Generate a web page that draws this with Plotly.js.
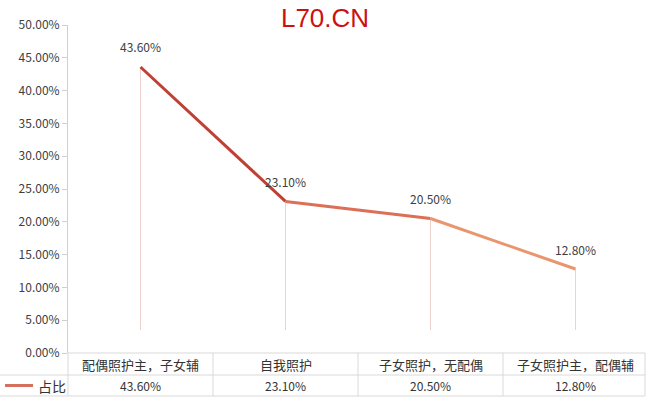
<!DOCTYPE html>
<html><head><meta charset="utf-8">
<script src="https://cdn.plot.ly/plotly-3.0.1.min.js"></script>
<style>html,body{margin:0;padding:0;background:#fff}#c{width:650px;height:402px}</style>
</head><body><div id="c"></div>
<script>
var categories = ["配偶照护主，子女辅", "自我照护", "子女照护，无配偶", "子女照护主，配偶辅"];
var values = [0.436, 0.231, 0.205, 0.128];
var valueLabels = ["43.60%", "23.10%", "20.50%", "12.80%"];
var seriesName = "占比";
var segColors = ["#bf4034", "#dc6f56", "#e9966f"];

var cjk = "Noto Sans CJK SC, sans-serif";
var traces = [];
for (var i = 0; i < values.length - 1; i++) {
  traces.push({
    x: [i, i + 1], y: [values[i], values[i + 1]], type: "scatter", mode: "lines",
    line: {color: segColors[i], width: 3}, hoverinfo: "skip", showlegend: false
  });
}

var shapes = [];
for (var i = 0; i < values.length; i++) {
  shapes.push({type: "line", xref: "x", yref: "y", x0: i, x1: i, y0: values[i], y1: 0.035,
    line: {color: "rgba(215,140,130,0.4)", width: 1}, layer: "below"});
}
var gc = "#d9d9d9";
var yr1 = -22 / 328, yr2 = -43 / 328;
var xl = -68 / 580, xr = 577 / 580;
shapes.push({type: "line", xref: "paper", yref: "paper", x0: 0, x1: xr, y0: 0, y1: 0, line: {color: gc, width: 1}});
shapes.push({type: "line", xref: "paper", yref: "paper", x0: xl, x1: xr, y0: yr1, y1: yr1, line: {color: gc, width: 1}});
shapes.push({type: "line", xref: "paper", yref: "paper", x0: xl, x1: xr, y0: yr2, y1: yr2, line: {color: gc, width: 1}});
shapes.push({type: "line", xref: "paper", yref: "paper", x0: 0, x1: 0, y0: 0, y1: yr2, line: {color: gc, width: 1}});
shapes.push({type: "line", xref: "paper", yref: "paper", x0: xr, x1: xr, y0: 0, y1: yr2, line: {color: gc, width: 1}});
for (var i = 1; i < categories.length; i++) {
  shapes.push({type: "line", xref: "x", yref: "paper", x0: i - 0.5, x1: i - 0.5, y0: 0, y1: yr2, line: {color: gc, width: 1}});
}
shapes.push({type: "line", xref: "paper", yref: "paper", x0: 5 / 580 + xl, x1: 33 / 580 + xl, y0: (yr1 + yr2) / 2, y1: (yr1 + yr2) / 2,
  line: {color: "#d6705e", width: 3}});

var annotations = [];
for (var i = 0; i < categories.length; i++) {
  annotations.push({x: i, xref: "x", y: values[i], yref: "y", yshift: 20, text: valueLabels[i], showarrow: false,
    xanchor: "center", yanchor: "middle", font: {family: cjk, size: 12, color: "#404040"}});
  annotations.push({x: i, xref: "x", y: yr1 / 2, yref: "paper", text: categories[i], showarrow: false,
    xanchor: "center", yanchor: "middle", font: {family: cjk, size: 13, color: "#333"}});
  annotations.push({x: i, xref: "x", y: (yr1 + yr2) / 2, yref: "paper", text: valueLabels[i], showarrow: false,
    xanchor: "center", yanchor: "middle", font: {family: cjk, size: 12, color: "#333"}});
}
annotations.push({x: 52 / 580 + xl, xref: "paper", y: (yr1 + yr2) / 2, yref: "paper", text: seriesName, showarrow: false,
  xanchor: "center", yanchor: "middle", font: {family: cjk, size: 14, color: "#333"}});

var layout = {
  width: 650, height: 402,
  margin: {l: 68, r: 2, t: 25, b: 49},
  paper_bgcolor: "#fff", plot_bgcolor: "#fff",
  title: {text: "L70.CN", x: 0.5, xanchor: "center", y: 0.955, yanchor: "middle",
    font: {family: "Liberation Sans, Arial, sans-serif", size: 26, color: "#cc1111"}},
  showlegend: false,
  xaxis: {range: [-0.5, 3.5], showticklabels: false, showgrid: false, zeroline: false, showline: false, ticks: ""},
  yaxis: {range: [0, 0.5], dtick: 0.05, tickformat: ".2%", showgrid: false, zeroline: false,
    showline: true, linecolor: "#d0d0d0", linewidth: 1, ticks: "outside", ticklen: 5, tickcolor: "#d0d0d0",
    tickfont: {family: cjk, size: 12, color: "#404040"}},
  shapes: shapes, annotations: annotations
};
Plotly.newPlot("c", traces, layout, {displayModeBar: false, staticPlot: true});
</script></body></html>
